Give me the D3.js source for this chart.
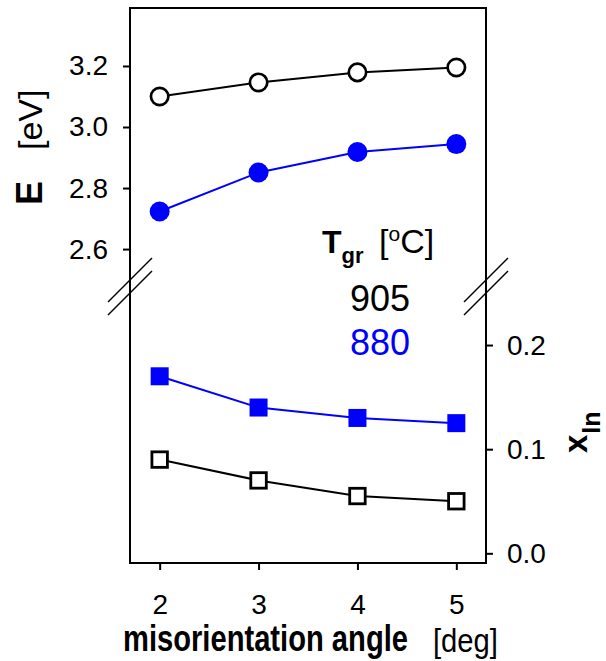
<!DOCTYPE html>
<html>
<head>
<meta charset="utf-8">
<script src="https://cdn.jsdelivr.net/npm/d3@7"></script>
<style>
  body { margin: 0; background: #fff; }
  svg { display: block; font-family: "Liberation Sans", Arial, sans-serif; }
</style>
</head>
<body>
<svg id="chart"></svg>
<script>
// misorientation angle [deg]
const angles = [2, 3, 4, 5];
// band gap E [eV], top panel
const energy905 = [3.100, 3.146, 3.179, 3.195];
const energy880 = [2.723, 2.851, 2.918, 2.944];
// indium content x_In, bottom panel
const xin905 = [0.090, 0.070, 0.055, 0.050];
const xin880 = [0.170, 0.140, 0.130, 0.125];
// tick labels
const angleTicks = [2, 3, 4, 5];
const energyTicks = [2.6, 2.8, 3.0, 3.2];
const xinTicks = [0.0, 0.1, 0.2];

class BrokenChart {

      constructor(config) {
            this.config = {
                  parent: config.parent,
                  width: config.width || 606,
                  height: config.height || 661,
                  left: 130, right: 486, top: 8, bottom: 563, split: 286
            };
            this.init();
      }

      init() {
            let self = this;
            const c = self.config;

            self.svg = d3.select(c.parent)
                  .attr('width', c.width)
                  .attr('height', c.height);

            self.xscale = d3.scaleLinear()
                  .domain([1.7, 5.3])
                  .range([c.left, c.right]);

            self.escale = d3.scaleLinear()
                  .domain([2.479, 3.39])
                  .range([c.split, c.top]);

            self.xinscale = d3.scaleLinear()
                  .domain([-0.0093, 0.2567])
                  .range([c.bottom, c.split]);
      }

      // squeeze a text horizontally so it spans `w` pixels (narrow font look)
      narrowText(x, y, w, size, weight, str) {
            const t = this.svg.append('text')
                  .style('font-size', size + 'px')
                  .style('font-weight', weight)
                  .text(str);
            const k = w / t.node().getComputedTextLength();
            t.attr('transform', `translate(${x}, ${y}) scale(${k}, 1)`);
            return t;
      }

      render() {
            let self = this;
            const c = self.config;
            const svg = self.svg;

            // frame
            svg.append('rect')
                  .attr('x', c.left).attr('y', c.top)
                  .attr('width', c.right - c.left).attr('height', c.bottom - c.top)
                  .attr('fill', 'none')
                  .attr('stroke', 'black')
                  .attr('stroke-width', 2);

            // axes
            const xaxis = d3.axisBottom(self.xscale)
                  .tickValues(angleTicks).tickSize(7).tickPadding(24)
                  .tickFormat(d3.format('d'));
            const eaxis = d3.axisLeft(self.escale)
                  .tickValues(energyTicks).tickSize(7).tickPadding(15)
                  .tickFormat(d3.format('.1f'));
            const xinaxis = d3.axisRight(self.xinscale)
                  .tickValues(xinTicks).tickSize(7).tickPadding(14)
                  .tickFormat(d3.format('.1f'));

            const styleAxis = g => {
                  g.select('.domain').remove();
                  g.selectAll('line').attr('stroke', 'black').attr('stroke-width', 2);
                  g.selectAll('text')
                        .attr('fill', 'black')
                        .style('font-size', '28px')
                        .style('font-family', '"Liberation Sans", Arial, sans-serif');
            };

            svg.append('g')
                  .attr('transform', `translate(0, ${c.bottom})`)
                  .call(xaxis).call(styleAxis);
            svg.append('g')
                  .attr('transform', `translate(${c.left}, 0)`)
                  .call(eaxis).call(styleAxis);
            svg.append('g')
                  .attr('transform', `translate(${c.right}, 0)`)
                  .call(xinaxis).call(styleAxis);

            // axis break marks
            [c.left, c.right].forEach(ax => {
                  [280, 293].forEach(yc => {
                        svg.append('line')
                              .attr('x1', ax - 22).attr('y1', yc + 22)
                              .attr('x2', ax + 22).attr('y2', yc - 22)
                              .attr('stroke', 'black')
                              .attr('stroke-width', 1.5);
                  });
            });

            // series
            const series = [
                  {vals: energy905, y: self.escale, color: 'black', shape: 'circle', open: true},
                  {vals: energy880, y: self.escale, color: '#0000ff', shape: 'circle', open: false},
                  {vals: xin880, y: self.xinscale, color: '#0000ff', shape: 'square', open: false},
                  {vals: xin905, y: self.xinscale, color: 'black', shape: 'square', open: true}
            ];

            series.forEach(s => {
                  const pts = angles.map((a, i) => [a, s.vals[i]]);
                  const line = d3.line()
                        .x(d => self.xscale(d[0]))
                        .y(d => s.y(d[1]));

                  svg.append('path')
                        .datum(pts)
                        .attr('d', line)
                        .attr('fill', 'none')
                        .attr('stroke', s.color)
                        .attr('stroke-width', 2);

                  if (s.shape === 'circle') {
                        svg.selectAll(null)
                              .data(pts)
                              .enter()
                              .append('circle')
                              .attr('cx', d => self.xscale(d[0]))
                              .attr('cy', d => s.y(d[1]))
                              .attr('r', s.open ? 8.7 : 10)
                              .attr('fill', s.open ? 'white' : s.color)
                              .attr('stroke', s.open ? s.color : 'none')
                              .attr('stroke-width', 2.7);
                  } else {
                        const side = s.open ? 15.5 : 18;
                        svg.selectAll(null)
                              .data(pts)
                              .enter()
                              .append('rect')
                              .attr('x', d => self.xscale(d[0]) - side / 2)
                              .attr('y', d => s.y(d[1]) - side / 2)
                              .attr('width', side)
                              .attr('height', side)
                              .attr('fill', s.open ? 'white' : s.color)
                              .attr('stroke', s.open ? s.color : 'none')
                              .attr('stroke-width', 2.8);
                  }
            });

            // x axis title
            self.narrowText(123, 651, 285, 36, 'bold', 'misorientation angle');
            self.narrowText(433, 652, 65, 34, 'normal', '[deg]');

            // left y title
            const et = svg.append('text')
                  .attr('transform', 'translate(42, 205) rotate(-90)')
                  .attr('x', 0).attr('y', 0);
            et.append('tspan').style('font-weight', 'bold').style('font-size', '36px').text('E');
            et.append('tspan').attr('x', 55).style('font-size', '34px').text('[eV]');

            // right y title
            const xt2 = svg.append('text')
                  .attr('transform', 'translate(587, 453) rotate(-90)')
                  .style('font-weight', 'bold');
            xt2.append('tspan').style('font-size', '33px').text('x');
            xt2.append('tspan').attr('dy', 13).attr('dx', 1).style('font-size', '25px').text('In');

            // legend
            const lt = svg.append('text')
                  .attr('x', 322).attr('y', 253);
            lt.append('tspan').style('font-weight', 'bold').style('font-size', '32px').text('T');
            lt.append('tspan').attr('dy', 10).style('font-weight', 'bold').style('font-size', '22px').text('gr');
            lt.append('tspan').attr('x', 379).attr('dy', -10).style('font-size', '34px').text('[');
            lt.append('tspan').attr('dy', -12).style('font-size', '21px').text('o');
            lt.append('tspan').attr('dy', 12).style('font-size', '34px').text('C]');

            svg.append('text')
                  .attr('x', 380).attr('y', 311)
                  .attr('text-anchor', 'middle')
                  .style('font-size', '36px')
                  .attr('fill', 'black')
                  .text('905');
            svg.append('text')
                  .attr('x', 380).attr('y', 355)
                  .attr('text-anchor', 'middle')
                  .style('font-size', '36px')
                  .attr('fill', '#0000ff')
                  .text('880');
      }
}

const chart = new BrokenChart({parent: '#chart', width: 606, height: 661});
chart.render();
</script>
</body>
</html>
